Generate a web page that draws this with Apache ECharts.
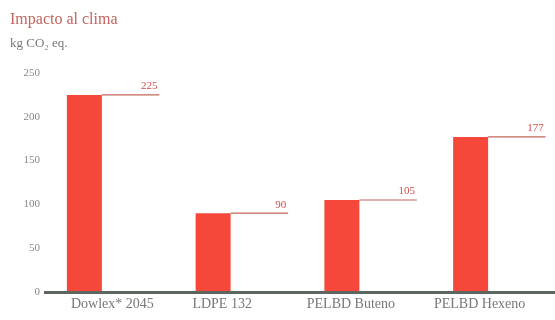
<!DOCTYPE html>
<html><head><meta charset="utf-8">
<script src="https://cdn.jsdelivr.net/npm/echarts@6/dist/echarts.min.js"></script>
<style>html,body{margin:0;padding:0;background:#fff}#c{width:555px;height:320px}</style>
</head><body><div id="c"></div>
<script>
const titleText = "Impacto al clima";
const subtitleText = "kg CO₂ eq.";
const categories = ["Dowlex* 2045", "LDPE 132", "PELBD Buteno", "PELBD Hexeno"];
const values = [225, 90, 105, 177];
const yTicks = [0, 50, 100, 150, 200, 250];

const chart = echarts.init(document.getElementById('c'));
const serif = '"Liberation Serif","DejaVu Serif",serif';
const option = {
  backgroundColor: '#fff',
  animation: false,
  title: {
    text: titleText, subtext: subtitleText, left: 5, top: 7, itemGap: 9,
    textStyle: {fontFamily: serif, fontSize: 16, fontWeight: 'normal', color: '#c4645e'},
    subtextStyle: {fontFamily: serif, fontSize: 13, color: '#777'}
  },
  grid: {left: 20, right: 20, top: 73, bottom: 28},
  xAxis: {
    type: 'category', data: categories,
    axisLine: {show: false}, axisTick: {show: false},
    axisLabel: {
      interval: 0, hideOverlap: false,
      fontFamily: serif, fontSize: 14, color: '#777', margin: 5,
      formatter: function (v, i) { return (i === 0 ? '{a|' : '{b|') + v + '}'; },
      rich: {
        a: {fontFamily: serif, fontSize: 14, color: '#777', padding: [0, 0, 0, 56]},
        b: {fontFamily: serif, fontSize: 14, color: '#777', padding: [0, 0, 0, 18]}
      }
    }
  },
  yAxis: {
    type: 'value', min: yTicks[0], max: yTicks[yTicks.length - 1], interval: 50,
    axisLine: {show: false}, axisTick: {show: false}, splitLine: {show: false},
    axisLabel: {fontFamily: serif, fontSize: 11, color: '#888', margin: -20}
  },
  graphic: [{
    type: 'rect', left: 44, top: 291, z: 10,
    shape: {width: 511, height: 3}, style: {fill: '#5f6660'}
  }],
  series: [{
    type: 'bar', data: values, barWidth: 35,
    itemStyle: {color: '#f5483a'}
  }, {
    type: 'custom',
    data: values.map((v, i) => [i, v]),
    renderItem: function (params, api) {
      const p = api.coord([api.value(0), api.value(1)]);
      const x0 = p[0] + 17.5, x1 = p[0] + 75;
      return {type: 'group', children: [
        {type: 'line', shape: {x1: x0, y1: p[1], x2: x1, y2: p[1]}, style: {stroke: '#c4645e', lineWidth: 1.2}},
        {type: 'text', style: {text: String(api.value(1)), x: x1 - 2, y: p[1] - 3, align: 'right', verticalAlign: 'bottom',
          fill: '#d0504a', font: '11px ' + serif}}
      ]};
    },
    z: 5
  }]
};
chart.setOption(option);
</script></body></html>
